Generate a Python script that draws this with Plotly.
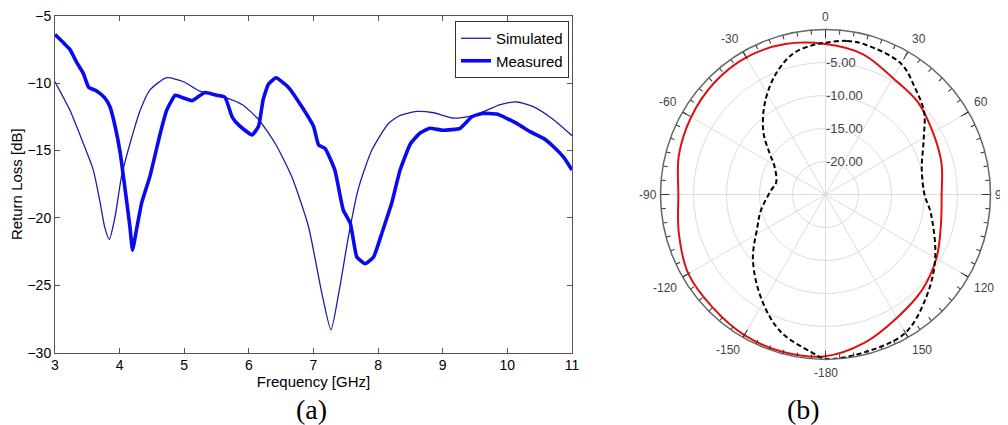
import math
import plotly.graph_objects as go

# ---------------- (a) Return loss data ----------------
sim_freq = [3.0, 3.23, 3.44, 3.59, 3.70, 3.77, 3.84, 3.93, 4.03, 4.16, 4.32, 4.47, 4.73, 4.99,
            5.24, 5.63, 5.90, 6.15, 6.41, 6.66, 6.92, 7.13, 7.27, 7.39, 7.54, 7.69, 7.90,
            8.16, 8.34, 8.60, 8.86, 9.17, 9.48, 9.89, 10.15, 10.40, 10.71, 11.0]
sim_rl = [-9.9, -12.0, -14.5, -16.4, -18.9, -20.7, -21.6, -19.9, -16.9, -14.5, -12.0, -10.5, -9.6, -9.9,
          -10.6, -11.05, -11.6, -12.7, -14.5, -16.9, -20.6, -25.6, -28.3, -25.6, -21.4, -17.9, -15.0,
          -13.0, -12.4, -12.1, -12.2, -12.6, -12.4, -11.6, -11.4, -11.75, -12.7, -13.9]

meas_freq = [3.0, 3.13, 3.23, 3.34, 3.44, 3.52, 3.65, 3.77, 3.85, 3.93, 4.01, 4.08, 4.16, 4.20,
             4.26, 4.34, 4.47, 4.63, 4.73, 4.86, 4.99, 5.12, 5.19, 5.32, 5.50, 5.63, 5.74, 5.84,
             6.05, 6.15, 6.22, 6.30, 6.42, 6.61, 6.82, 7.0, 7.08, 7.18, 7.33, 7.46, 7.57, 7.67,
             7.80, 7.93, 8.06, 8.21, 8.34, 8.50, 8.65, 8.80, 9.01, 9.27, 9.45, 9.61, 9.84,
             10.15, 10.35, 10.56, 10.71, 10.87, 11.0]
meas_rl = [-6.4, -7.0, -7.5, -8.5, -9.3, -10.3, -10.6, -11.1, -11.75, -13.2, -15.2, -17.7, -20.7, -22.4,
           -20.9, -18.9, -16.9, -13.7, -12.0, -10.9, -11.1, -11.3, -11.1, -10.7, -10.9, -11.05, -12.5, -13.1,
           -13.85, -13.2, -11.25, -10.1, -9.6, -10.3, -11.75, -13.2, -14.6, -14.85, -16.45, -19.4, -20.4, -22.9,
           -23.4, -22.9, -21.1, -18.9, -16.45, -14.5, -13.7, -13.35, -13.5, -13.35, -12.5, -12.25, -12.3,
           -13.0, -13.6, -14.1, -14.7, -15.5, -16.45]

x_ticks = [3, 4, 5, 6, 7, 8, 9, 10, 11]
y_ticks = [-30, -25, -20, -15, -10, -5]

# ---------------- (b) Radiation pattern data ----------------
red_theta = [0, 15, 30, 45, 60, 75, 90, 105, 120, 135, 150, 165, 180,
             195, 210, 225, 240, 255, 270, 285, 300, 315, 330, 345, 360]
red_r = [-2.2, -3.0, -4.6, -5.2, -6.2, -6.8, -7.4, -6.9, -5.6, -4.4, -3.4, -1.8, -0.5,
         -0.3, -0.4, -0.8, -1.0, -2.0, -2.7, -2.0, -1.5, -1.1, -1.0, -1.4, -2.2]

blk_theta = [0, 8, 15, 30, 40, 50, 60, 75, 90, 100, 120, 135, 150, 165, 180,
             185, 198, 211, 228, 244, 256, 274, 284, 300, 306, 315, 326, 337, 347, 355, 360]
blk_r = [-2.0, -1.5, -1.5, -2.1, -3.9, -5.5, -7.8, -9.9, -10.0, -8.8, -5.8, -3.3, -0.8, -0.4, -0.1,
         -1.0, -3.1, -6.3, -10.2, -13.5, -14.9, -16.7, -17.3, -16.0, -14.6, -11.7, -8.5, -5.4, -3.1, -2.3, -2.0]

ang_vals = [0, 30, 60, 90, 120, 150, 180, 210, 240, 270, 300, 330]
ang_text = ["0", "30", "60", "90", "120", "150", "-180", "-150", "-120", "-90", "-60", "-30"]
rad_vals = [-20, -15, -10, -5]
rad_text = ["-20.00", "-15.00", "-10.00", "-5.00"]

W, H = 1000, 417
fig = go.Figure()

fig.add_trace(go.Scatter(x=sim_freq, y=sim_rl, mode="lines", name="Simulated",
                         line=dict(color="#1e1ea8", width=1.3, shape="spline", smoothing=0.6)))
fig.add_trace(go.Scatter(x=meas_freq, y=meas_rl, mode="lines", name="Measured",
                         line=dict(color="#0a0aee", width=3.6, shape="spline", smoothing=0.4)))

fig.add_trace(go.Scatterpolar(r=red_r, theta=red_theta, mode="lines", showlegend=False,
                              line=dict(color="#e01010", width=2, shape="spline"), subplot="polar"))
fig.add_trace(go.Scatterpolar(r=blk_r, theta=blk_theta, mode="lines", showlegend=False,
                              line=dict(color="black", width=2, dash="5px,3px", shape="spline"), subplot="polar"))
# helper subplot for minor angular ticks
fig.add_trace(go.Scatterpolar(r=[], theta=[], mode="lines", showlegend=False, subplot="polar2"))

axis_font = dict(family="Liberation Sans, Arial", size=14, color="black")
title_font = dict(family="Liberation Sans, Arial", size=15, color="black")

pol_x = [0.6525, 0.9825]
pol_y = [0.1571, 0.9484]
pol_domain = dict(x=pol_x, y=pol_y)

# angular tick labels placed just outside the outer ring (derived from the polar domain)
cx = (pol_x[0] + pol_x[1]) / 2 * W
cy = (1 - (pol_y[0] + pol_y[1]) / 2) * H
R = (pol_x[1] - pol_x[0]) * W / 2
ang_annotations = []
for a, t in zip(ang_vals, ang_text):
    s, c = math.sin(math.radians(a)), math.cos(math.radians(a))
    pad = 3 if abs(s) > 0.9 else 5
    px = cx + (R + pad) * s
    py = cy - (R + pad) * c
    xa = "left" if s > 0.3 else ("right" if s < -0.3 else "center")
    ya = "bottom" if c > 0.3 else ("top" if c < -0.3 else "middle")
    ang_annotations.append(dict(text=t, x=px / W, y=1 - py / H, xref="paper", yref="paper",
                                showarrow=False, xanchor=xa, yanchor=ya, borderpad=0,
                                font=dict(family="Liberation Sans, Arial", size=12, color="#444")))

fig.update_layout(
    width=W, height=H,
    margin=dict(l=0, r=0, t=0, b=0, autoexpand=False),
    paper_bgcolor="white", plot_bgcolor="white",
    showlegend=True,
    xaxis=dict(domain=[0.047, 0.564], range=[3, 11], tickvals=x_ticks, automargin=False,
               ticklabeloverflow="allow",
               ticks="inside", ticklen=5, tickcolor="#555", mirror="ticks",
               showline=True, linecolor="#555", linewidth=1, showgrid=False, zeroline=False,
               tickfont=axis_font,
               title=dict(text="Frequency [GHz]", font=title_font, standoff=2)),
    yaxis=dict(domain=[0.1734, 0.9815], range=[-30, -5], tickvals=y_ticks, automargin=False,
               ticklabeloverflow="allow",
               ticks="inside", ticklen=5, tickcolor="#555", mirror="ticks",
               showline=True, linecolor="#555", linewidth=1, showgrid=False, zeroline=False,
               tickfont=axis_font,
               title=dict(text="Return Loss [dB]", font=title_font, standoff=4)),
    legend=dict(x=0.561, xanchor="right", y=0.9688, yanchor="top",
                bgcolor="white", bordercolor="#333", borderwidth=1,
                font=dict(family="Liberation Sans, Arial", size=15, color="black"),
                tracegroupgap=0, itemwidth=30),
    polar=dict(
        domain=pol_domain,
        bgcolor="white",
        angularaxis=dict(rotation=90, direction="clockwise", tickmode="array",
                         tickvals=ang_vals, ticktext=ang_text, showticklabels=False,
                         ticks="inside", ticklen=8, tickcolor="#333",
                         showline=True, linecolor="#666", linewidth=1.5,
                         gridcolor="#dcdcdc", gridwidth=1),
        radialaxis=dict(range=[-25, 0], tickmode="array", tickvals=rad_vals, ticktext=rad_text,
                        angle=90, tickangle=90,
                        showline=False, ticks="", gridcolor="#dcdcdc", gridwidth=1,
                        tickfont=dict(family="Liberation Sans, Arial", size=13, color="#444")),
    ),
    polar2=dict(
        domain=pol_domain,
        bgcolor="rgba(0,0,0,0)",
        angularaxis=dict(rotation=90, direction="clockwise", tickmode="array",
                         tickvals=list(range(0, 360, 5)), ticktext=[""] * 72,
                         ticks="inside", ticklen=4, tickcolor="#333",
                         showline=False, showgrid=False),
        radialaxis=dict(visible=False, range=[-25, 0]),
    ),
    annotations=[
        dict(text="(a)", x=0.286, y=0.036, xref="paper", yref="paper", showarrow=False,
             yanchor="middle",
             font=dict(family="Liberation Serif, Times New Roman", size=28, color="black")),
        dict(text="(b)", x=0.814, y=0.036, xref="paper", yref="paper", showarrow=False,
             yanchor="middle",
             font=dict(family="Liberation Serif, Times New Roman", size=28, color="black")),
    ] + ang_annotations,
)

fig.write_html("out.html")
